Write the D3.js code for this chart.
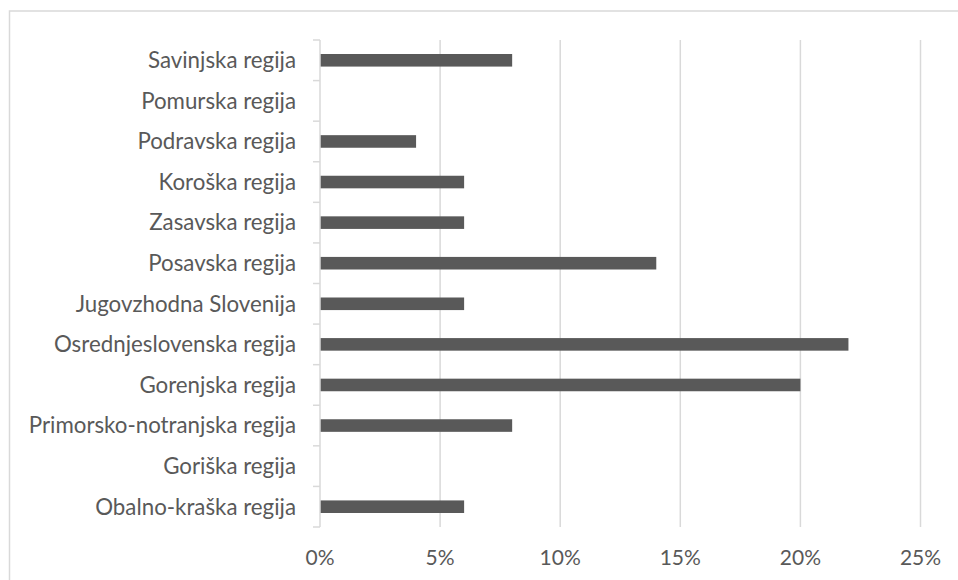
<!DOCTYPE html>
<html><head><meta charset="utf-8">
<script src="https://cdn.jsdelivr.net/npm/d3@7"></script>
<style>body{margin:0;background:#fff}svg{display:block}text{font-family:Lato,"Open Sans",sans-serif;fill:#595959}</style>
</head><body>
<svg id="c" width="958" height="580"></svg>
<script>
const categories = ["Savinjska regija","Pomurska regija","Podravska regija","Koroška regija","Zasavska regija","Posavska regija","Jugovzhodna Slovenija","Osrednjeslovenska regija","Gorenjska regija","Primorsko-notranjska regija","Goriška regija","Obalno-kraška regija"];
const values = [0.08,0,0.04,0.06,0.06,0.14,0.06,0.22,0.20,0.08,0,0.06];
const ticks = [0,0.05,0.10,0.15,0.20,0.25];

const svg = d3.select("#c");
svg.append("rect").attr("x",9.5).attr("y",11).attr("width",1000).attr("height",1000)
  .attr("fill","none").attr("stroke","#d9d9d9").attr("stroke-width",1.5);
const L=320, R=920.5, T=40, B=527;
const x = d3.scaleLinear().domain([0,0.25]).range([L,R]);
const y = d3.scaleBand().domain(categories).range([T,B]).paddingInner(0.69).paddingOuter(0.345);
const yb = d3.scaleBand().domain(categories).range([T,B]);

svg.append("g").selectAll("line").data(ticks.slice(1)).join("line")
  .attr("x1",d=>x(d)).attr("x2",d=>x(d)).attr("y1",T).attr("y2",B)
  .attr("stroke","#d9d9d9").attr("stroke-width",1.5);

svg.append("g").selectAll("rect").data(values).join("rect")
  .attr("x",x(0)).attr("y",(d,i)=>y(categories[i]))
  .attr("width",d=>x(d)-x(0)).attr("height",y.bandwidth())
  .attr("fill","#595959");

const ya = svg.append("g");
ya.append("line").attr("x1",L).attr("x2",L).attr("y1",T).attr("y2",B).attr("stroke","#d9d9d9").attr("stroke-width",1.5);
const bounds = categories.map(c=>yb(c)).concat([B]);
ya.selectAll("line.t").data(bounds).join("line").attr("class","t")
  .attr("x1",L-7).attr("x2",L).attr("y1",d=>d).attr("y2",d=>d)
  .attr("stroke","#d9d9d9").attr("stroke-width",1.5);

svg.append("g").selectAll("text").data(categories).join("text")
  .attr("x",296).attr("y",d=>yb(d)+yb.bandwidth()/2).attr("dy","0.35em")
  .attr("text-anchor","end").attr("font-size",22.3).text(d=>d);

svg.append("g").selectAll("text").data(ticks).join("text")
  .attr("x",d=>x(d)).attr("y",558).attr("dy","0.35em")
  .attr("text-anchor","middle").attr("font-size",21).text(d=>d3.format(".0%")(d));
</script>
</body></html>
